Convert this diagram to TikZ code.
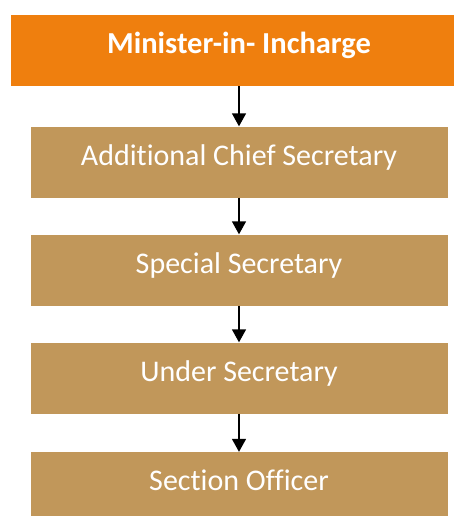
\documentclass[tikz,border=0pt]{standalone}
\usepackage{fontspec}
\setmainfont[Ligatures=NoCommon]{Carlito}
\usetikzlibrary{arrows.meta}
\definecolor{headorange}{RGB}{239,127,14}
\definecolor{rankbrown}{RGB}{193,151,90}

\begin{document}
\begin{tikzpicture}[x=1pt, y=-1pt,
    headbox/.style={fill=headorange, text=white, minimum width=456pt, minimum height=71pt,
        inner sep=0pt, text height=18pt, text depth=12pt,
        font=\fontsize{30.5}{36}\selectfont\bfseries},
    rankbox/.style={fill=rankbrown, text=white, minimum width=417pt, minimum height=71pt,
        inner sep=0pt, text height=18pt, text depth=12pt,
        font=\fontsize{30}{36}\selectfont},
    down/.style={-{Triangle[width=14pt, length=13pt]}, line width=1.5pt}]
    % page frame
    \useasboundingbox (0, 0) rectangle (454, 516);
    \clip (0, 0) rectangle (454, 516);
    % boxes
    \node[headbox] (minister) at (239, 50.5) {Minister-in- Incharge};
    \node[rankbox] (acs) at (239, 162) {Additional Chief Secretary};
    \node[rankbox] (special) at (239, 270) {Special Secretary};
    \node[rankbox] (under) at (239, 378) {Under Secretary};
    \node[rankbox] (section) at (239, 487.5) {Section Officer};
    % chain of command
    \draw[down] (minister.south) -- (acs.north);
    \draw[down] (acs.south) -- (special.north);
    \draw[down] (special.south) -- (under.north);
    \draw[down] (under.south) -- (section.north);
\end{tikzpicture}
\end{document}
